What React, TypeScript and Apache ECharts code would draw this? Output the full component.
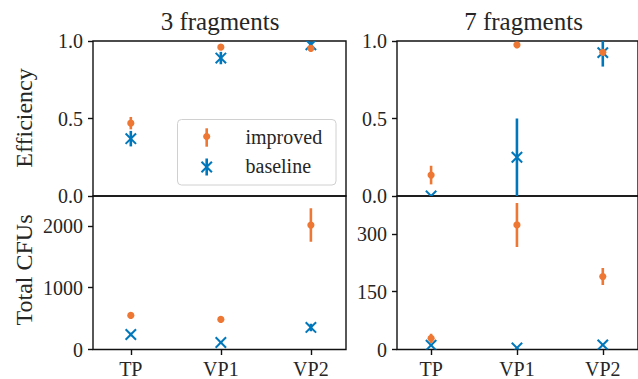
import React, { useEffect, useRef } from "react";
import * as echarts from "echarts";

const categories = ["TP", "VP1", "VP2"];

// Efficiency, 3 fragments
const eff3Improved = [0.47, 0.96, 0.953];
const eff3ImprovedErr = [0.04, 0.005, 0.005];
const eff3Baseline = [0.37, 0.89, 0.975];
const eff3BaselineErr = [0.05, 0.04, 0.02];

// Efficiency, 7 fragments
const eff7Improved = [0.135, 0.975, 0.927];
const eff7ImprovedErr = [0.06, 0.005, 0.01];
const eff7Baseline = [0.0, 0.25, 0.925];
const eff7BaselineErr = [0.0, 0.25, 0.09];

// Total CFUs, 3 fragments
const cfu3Improved = [551, 486, 2015];
const cfu3ImprovedErr = [25, 20, 270];
const cfu3Baseline = [243, 113, 357];
const cfu3BaselineErr = [30, 20, 60];

// Total CFUs, 7 fragments
const cfu7Improved = [29, 323, 189];
const cfu7ImprovedErr = [12, 57, 22];
const cfu7Baseline = [11, 4, 12];
const cfu7BaselineErr = [1, 1, 1];

const effTicks = [0, 0.5, 1.0];
const cfu3Ticks = [0, 1000, 2000];
const cfu7Ticks = [0, 150, 300];
const titles = ["3 fragments", "7 fragments"];
const yLabels = ["Efficiency", "Total CFUs"];
const seriesNames = ["improved", "baseline"];

const ORANGE = "#EE7733";
const BLUE = "#0077BB";
const FONT = "Liberation Serif";
const TEXT = "#262626";

function toData(vals: number[], errs: number[]) {
  return vals.map((v, i) => [i, v, errs[i]]);
}

function renderer(kind: "dot" | "x", color: string) {
  return (params: any, api: any) => {
    const x = api.value(0);
    const y = api.value(1);
    const e = api.value(2);
    const c = api.coord([x, y]);
    const top = api.coord([x, y + e]);
    const bot = api.coord([x, y - e]);
    const children: any[] = [];
    if (e > 0) {
      children.push({
        type: "line",
        shape: { x1: c[0], y1: top[1], x2: c[0], y2: bot[1] },
        style: { stroke: color, lineWidth: 2.6 },
      });
    }
    if (kind === "dot") {
      children.push({
        type: "circle",
        shape: { cx: c[0], cy: c[1], r: 3.6 },
        style: { fill: color },
      });
    } else {
      const s = 5.2;
      children.push(
        {
          type: "line",
          shape: { x1: c[0] - s, y1: c[1] - s, x2: c[0] + s, y2: c[1] + s },
          style: { stroke: color, lineWidth: 2 },
        },
        {
          type: "line",
          shape: { x1: c[0] - s, y1: c[1] + s, x2: c[0] + s, y2: c[1] - s },
          style: { stroke: color, lineWidth: 2 },
        }
      );
    }
    return { type: "group", children };
  };
}

export default function App() {
  const ref = useRef<HTMLDivElement>(null);
  useEffect(() => {
    if (!ref.current) return;
    const chart = echarts.init(ref.current, null, { renderer: "svg" });

    const grids = [
      { left: 93, top: 41, width: 253, height: 155 },
      { left: 397, top: 41, width: 253, height: 155 },
      { left: 93, top: 196, width: 253, height: 153.5 },
      { left: 397, top: 196, width: 253, height: 153.5 },
    ].map((g) => ({
      ...g,
      show: true,
      borderColor: "#111",
      borderWidth: 1.4,
      backgroundColor: "transparent",
    }));

    const xRanges = [
      [-0.42, 2.39],
      [-0.397, 2.41],
      [-0.42, 2.39],
      [-0.397, 2.41],
    ];

    const xAxes = xRanges.map((r, i) => {
      const bottom = i >= 2;
      return {
        type: "value",
        gridIndex: i,
        position: "bottom",
        min: r[0],
        max: r[1],
        axisLine: { show: false, onZero: false },
        splitLine: { show: false },
        axisTick: {
          show: bottom,
          length: 5.5,
          lineStyle: { color: "#111", width: 1.4 },
          customValues: [0, 1, 2],
        },
        axisLabel: {
          show: bottom,
          customValues: [0, 1, 2],
          formatter: (v: number) => categories[Math.round(v)] ?? "",
          fontFamily: FONT,
          fontSize: 20,
          color: TEXT,
          margin: 9,
        },
      };
    });

    const yDefs = [
      { max: 1, ticks: effTicks, fmt: (v: number) => v.toFixed(1) },
      { max: 1, ticks: effTicks, fmt: (v: number) => v.toFixed(1) },
      { max: 2485, ticks: cfu3Ticks, fmt: (v: number) => String(v) },
      { max: 398, ticks: cfu7Ticks, fmt: (v: number) => String(v) },
    ];

    const yAxes = yDefs.map((d, i) => {
      const top = i < 2;
      return {
        type: "value",
        gridIndex: i,
        position: "left",
        min: 0,
        max: d.max,
        interval: top ? 0.5 : undefined,
        axisLine: { show: false, onZero: false },
        splitLine: { show: false },
        axisTick: {
          show: true,
          length: 5,
          lineStyle: { color: "#111", width: 1.4 },
          customValues: top ? undefined : d.ticks,
        },
        axisLabel: {
          customValues: top ? undefined : d.ticks,
          formatter: d.fmt,
          fontFamily: FONT,
          fontSize: 20,
          color: TEXT,
          margin: 10,
        },
      };
    });

    const panels = [
      [eff3Improved, eff3ImprovedErr, eff3Baseline, eff3BaselineErr],
      [eff7Improved, eff7ImprovedErr, eff7Baseline, eff7BaselineErr],
      [cfu3Improved, cfu3ImprovedErr, cfu3Baseline, cfu3BaselineErr],
      [cfu7Improved, cfu7ImprovedErr, cfu7Baseline, cfu7BaselineErr],
    ];

    const series: any[] = [];
    panels.forEach((p, i) => {
      series.push({
        type: "custom",
        name: seriesNames[1],
        xAxisIndex: i,
        yAxisIndex: i,
        clip: true,
        data: toData(p[2], p[3]),
        encode: { x: 0, y: 1 },
        renderItem: renderer("x", BLUE),
        z: 2,
      });
      series.push({
        type: "custom",
        name: seriesNames[0],
        xAxisIndex: i,
        yAxisIndex: i,
        clip: true,
        data: toData(p[0], p[1]),
        encode: { x: 0, y: 1 },
        renderItem: renderer("dot", ORANGE),
        z: 3,
      });
    });

    const txt = (s: any) => ({
      fontFamily: FONT,
      fill: TEXT,
      ...s,
    });

    const graphic: any[] = [
      {
        type: "text",
        x: 220,
        y: 21,
        style: txt({ text: titles[0], fontSize: 25, align: "center", verticalAlign: "middle" }),
      },
      {
        type: "text",
        x: 523.5,
        y: 21,
        style: txt({ text: titles[1], fontSize: 25, align: "center", verticalAlign: "middle" }),
      },
      {
        type: "text",
        x: 24,
        y: 118,
        rotation: Math.PI / 2,
        style: txt({ text: yLabels[0], fontSize: 24, align: "center", verticalAlign: "middle" }),
      },
      {
        type: "text",
        x: 24,
        y: 270,
        rotation: Math.PI / 2,
        style: txt({ text: yLabels[1], fontSize: 24, align: "center", verticalAlign: "middle" }),
      },
      // legend
      {
        type: "rect",
        z: 10,
        shape: { x: 177.5, y: 119.5, width: 158.5, height: 65.5, r: 4 },
        style: { fill: "rgba(255,255,255,0.8)", stroke: "#d0d0d0", lineWidth: 1 },
      },
      {
        type: "line",
        z: 11,
        shape: { x1: 206.7, y1: 128.3, x2: 206.7, y2: 146.7 },
        style: { stroke: ORANGE, lineWidth: 2.6 },
      },
      {
        type: "circle",
        z: 11,
        shape: { cx: 206.7, cy: 136.5, r: 3.6 },
        style: { fill: ORANGE },
      },
      {
        type: "line",
        z: 11,
        shape: { x1: 206.7, y1: 158.5, x2: 206.7, y2: 175.5 },
        style: { stroke: BLUE, lineWidth: 2.6 },
      },
      {
        type: "line",
        z: 11,
        shape: { x1: 201.5, y1: 161.8, x2: 211.9, y2: 172.2 },
        style: { stroke: BLUE, lineWidth: 2 },
      },
      {
        type: "line",
        z: 11,
        shape: { x1: 201.5, y1: 172.2, x2: 211.9, y2: 161.8 },
        style: { stroke: BLUE, lineWidth: 2 },
      },
      {
        type: "text",
        z: 11,
        x: 245.5,
        y: 137,
        style: txt({ text: seriesNames[0], fontSize: 20, align: "left", verticalAlign: "middle" }),
      },
      {
        type: "text",
        z: 11,
        x: 245.5,
        y: 166,
        style: txt({ text: seriesNames[1], fontSize: 20, align: "left", verticalAlign: "middle" }),
      },
    ];

    chart.setOption({
      animation: false,
      backgroundColor: "#ffffff",
      textStyle: { fontFamily: FONT },
      grid: grids,
      xAxis: xAxes,
      yAxis: yAxes,
      series,
      graphic,
    });

    return () => chart.dispose();
  }, []);

  return (
    <div
      ref={ref}
      style={{ position: "absolute", left: 0, top: 0, width: 638, height: 379 }}
    />
  );
}
